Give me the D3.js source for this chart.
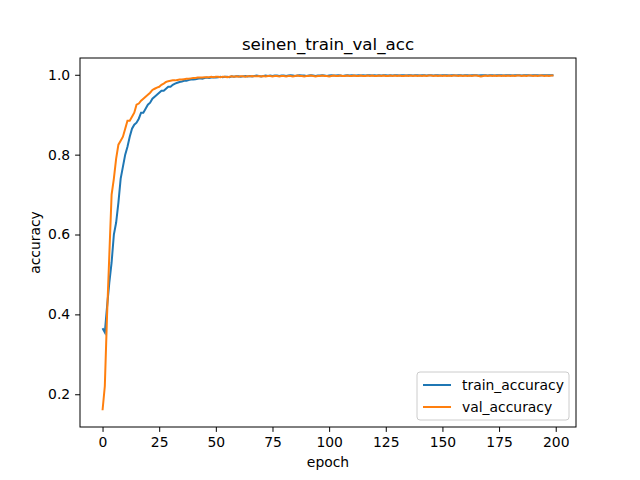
<!DOCTYPE html>
<html><head><meta charset="utf-8">
<script src="https://cdn.jsdelivr.net/npm/d3@7"></script>
<style>body{margin:0;background:#fff}text{font-family:"DejaVu Sans",sans-serif}</style>
</head><body><svg id="chart" width="640" height="480"></svg>
<script>
// accuracy values per epoch
const trainAcc = [0.365,0.355,0.42,0.48,0.53,0.60,0.63,0.68,0.74,0.77,0.80,0.82,0.845,0.865,0.875,0.88,0.89,0.905,0.905,0.915,
0.925,0.93,0.94,0.945,0.95,0.955,0.96,0.96,0.965,0.97,0.97,0.975,0.978,0.98,0.982,0.983,0.985,0.985,0.987,0.988,
0.988,0.989,0.99,0.991,0.99,0.992,0.993,0.992,0.993,0.994,0.993,0.994,0.995,0.994,0.995,0.995,0.994,0.996,0.995,0.996,
0.996,0.995,0.996,0.997,0.996,0.997,0.996,0.997,0.998,0.997,0.996,0.997,0.998,0.997,0.998,0.997,0.998,0.998,0.997,0.998,
0.998,0.997,0.998,0.999,0.998,0.997,0.998,0.999,0.998,0.998,0.997,0.998,0.999,0.998,0.997,0.998,0.998,0.999,0.998,0.997,
0.998,0.999,0.998,0.998,0.999,0.998,0.997,0.998,0.999,0.998,0.999,0.998,0.998,0.999,0.998,0.999,0.998,0.999,0.999,0.998,
0.999,0.998,0.999,0.998,0.999,0.999,0.998,0.999,0.998,0.999,0.999,0.998,0.999,0.999,0.998,0.999,0.999,0.998,0.999,0.999,
0.998,0.999,0.999,0.998,0.999,0.999,0.998,0.999,0.999,0.998,0.999,0.999,0.999,0.998,0.999,0.999,0.998,0.999,0.999,0.998,
0.999,0.999,0.998,0.999,0.999,0.999,0.998,0.999,0.999,0.999,0.998,0.999,0.999,0.998,0.999,0.999,0.999,0.998,0.999,0.999,
0.999,0.998,0.999,0.999,0.999,0.998,0.999,0.999,0.999,0.998,0.999,0.999,0.999,0.998,0.999,0.999,0.999,0.999,0.999,0.999];
const valAcc = [0.16,0.22,0.40,0.55,0.70,0.74,0.79,0.825,0.835,0.845,0.865,0.885,0.885,0.895,0.905,0.925,0.928,0.935,0.94,0.945,
0.95,0.955,0.962,0.965,0.968,0.97,0.975,0.978,0.982,0.984,0.985,0.986,0.986,0.987,0.988,0.988,0.989,0.99,0.99,0.991,
0.992,0.992,0.993,0.993,0.993,0.994,0.994,0.994,0.995,0.994,0.995,0.995,0.994,0.995,0.995,0.994,0.995,0.996,0.995,0.996,
0.995,0.996,0.996,0.995,0.996,0.996,0.997,0.996,0.996,0.997,0.996,0.997,0.996,0.997,0.997,0.996,0.997,0.997,0.996,0.997,
0.997,0.996,0.997,0.997,0.996,0.997,0.998,0.997,0.997,0.996,0.997,0.997,0.998,0.997,0.996,0.997,0.997,0.998,0.997,0.997,
0.996,0.997,0.998,0.997,0.997,0.998,0.997,0.997,0.998,0.997,0.997,0.998,0.997,0.997,0.998,0.997,0.997,0.998,0.997,0.998,
0.997,0.997,0.998,0.997,0.998,0.997,0.997,0.998,0.997,0.998,0.997,0.998,0.997,0.997,0.998,0.997,0.998,0.997,0.998,0.997,
0.998,0.997,0.998,0.997,0.998,0.998,0.997,0.998,0.997,0.998,0.997,0.998,0.997,0.998,0.997,0.998,0.998,0.997,0.998,0.997,
0.998,0.997,0.998,0.997,0.998,0.998,0.997,0.996,0.997,0.998,0.997,0.998,0.997,0.998,0.997,0.998,0.997,0.998,0.997,0.998,
0.997,0.998,0.997,0.998,0.998,0.997,0.998,0.997,0.998,0.998,0.997,0.998,0.997,0.998,0.998,0.997,0.998,0.997,0.998,0.998];
const xTicks = [0,25,50,75,100,125,150,175,200];
const yTicks = [0.2,0.4,0.6,0.8,1.0];

let svg = d3.select("svg#chart");
let m = {l:80, r:576, t:58, b:427};
let x = d3.scaleLinear().domain([-9.95, 208.95]).range([m.l, m.r]);
let y = d3.scaleLinear().domain([0.118, 1.042]).range([m.b, m.t]);

svg.append("g").attr("transform", `translate(0,${m.b})`)
    .call(d3.axisBottom(x).tickValues(xTicks).tickSize(4.9).tickPadding(4.9).tickFormat(d3.format("d")))
    .call(g => g.select(".domain").remove());
svg.append("g").attr("transform", `translate(${m.l},0)`)
    .call(d3.axisLeft(y).tickValues(yTicks).tickSize(4.9).tickPadding(4.9).tickFormat(d3.format(".1f")))
    .call(g => g.select(".domain").remove());
svg.selectAll(".tick text").attr("font-size", 13.9).attr("fill", "#000").style("font-family", "DejaVu Sans");
svg.selectAll(".tick line").attr("stroke", "#000");

let line = d3.line().x((d, i) => x(i)).y(d => y(d));
svg.append("path").datum(trainAcc).attr("d", line).attr("fill", "none").attr("stroke", "#1f77b4").attr("stroke-width", 2);
svg.append("path").datum(valAcc).attr("d", line).attr("fill", "none").attr("stroke", "#ff7f0e").attr("stroke-width", 2);

svg.append("rect").attr("x", m.l).attr("y", m.t).attr("width", m.r - m.l).attr("height", m.b - m.t)
    .attr("fill", "none").attr("stroke", "#000").attr("stroke-width", 1);

svg.append("text").attr("x", (m.l + m.r) / 2).attr("y", 50).attr("text-anchor", "middle").attr("font-size", 16.7).text("seinen_train_val_acc");
svg.append("text").attr("x", (m.l + m.r) / 2).attr("y", 467).attr("text-anchor", "middle").attr("font-size", 13.9).text("epoch");
svg.append("text").attr("transform", `translate(40,${(m.t + m.b) / 2}) rotate(-90)`).attr("text-anchor", "middle").attr("font-size", 13.9).text("accuracy");

// legend
let lg = svg.append("g").attr("transform", "translate(417,372)");
lg.append("rect").attr("width", 152).attr("height", 48).attr("rx", 3).attr("fill", "#fff").attr("fill-opacity", 0.8).attr("stroke", "#ccc");
[["train_accuracy", "#1f77b4"], ["val_accuracy", "#ff7f0e"]].forEach((s, i) => {
    lg.append("line").attr("x1", 6).attr("x2", 34).attr("y1", 13 + i * 22).attr("y2", 13 + i * 22).attr("stroke", s[1]).attr("stroke-width", 2);
    lg.append("text").attr("x", 45).attr("y", 18 + i * 22).attr("font-size", 13.9).text(s[0]);
});
</script></body></html>
